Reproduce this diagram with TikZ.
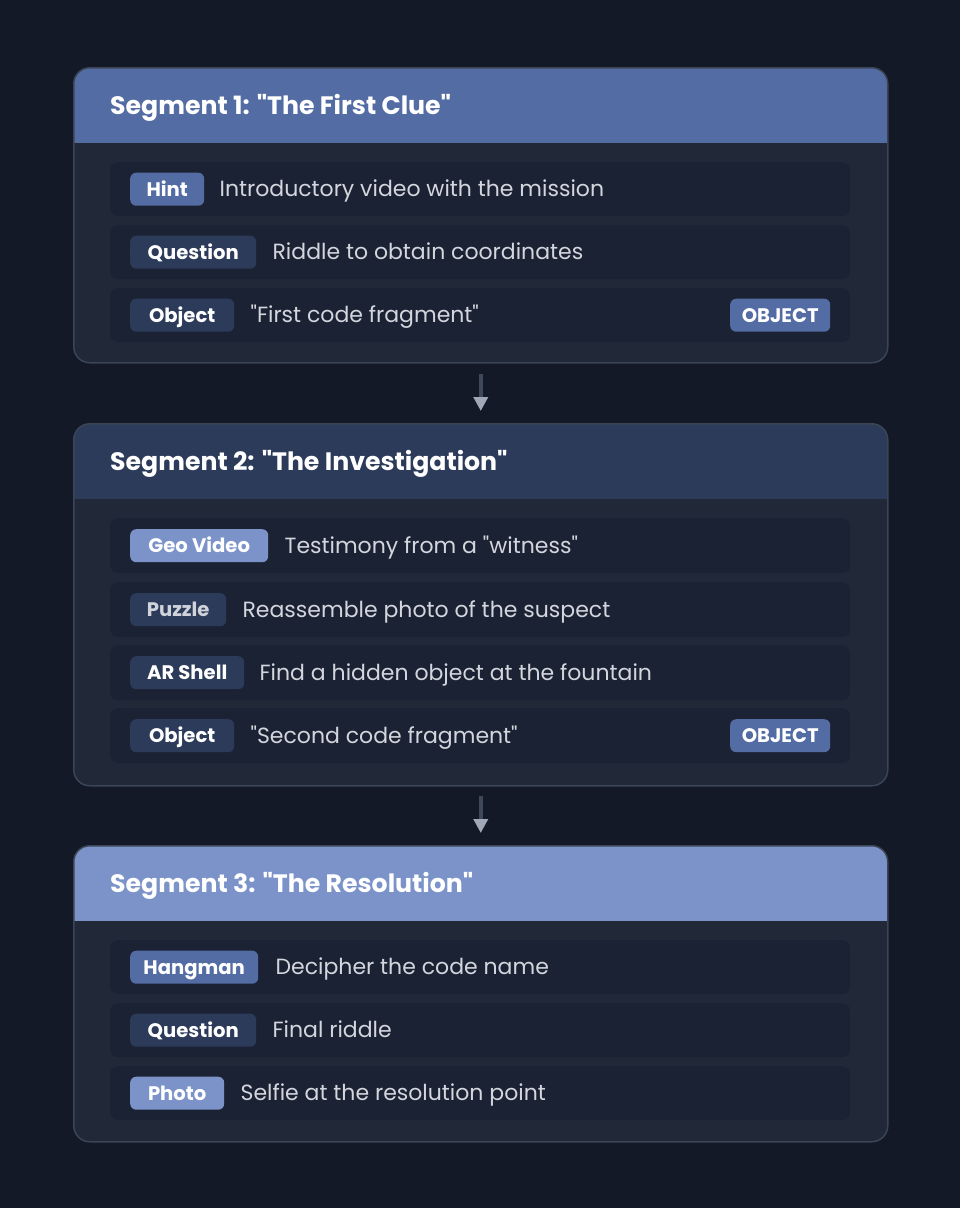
\documentclass[tikz,border=0pt]{standalone}
\usepackage{fontspec}
\setmainfont{Poppins}[Ligatures=TeXOff]
\usetikzlibrary{arrows.meta}
\definecolor{bg}{HTML}{131927}
\definecolor{cardbody}{HTML}{212938}
\definecolor{cardborder}{HTML}{3B4556}
\definecolor{rowbg}{HTML}{1B2233}
\definecolor{cmid}{HTML}{536CA3}
\definecolor{cdark}{HTML}{2C3B5A}
\definecolor{clight}{HTML}{7B93C9}
\definecolor{desctext}{HTML}{D3D6DD}
\definecolor{puzzletext}{HTML}{D0D3DA}
\definecolor{arrline}{HTML}{3E4859}
\definecolor{arrhead}{HTML}{A0A8B8}
\begin{document}
\begin{tikzpicture}[x=1pt,y=-1pt,
  card/.style={draw=cardborder, line width=1.5pt, fill=cardbody, rounded corners=16pt,
    anchor=north west, minimum width=814pt, inner sep=0pt,
    path picture={\fill[#1, sharp corners] (path picture bounding box.north west) rectangle ([yshift=-75pt]path picture bounding box.north east);}},
  rowbox/.style={fill=rowbg, rounded corners=8pt, anchor=north west, minimum width=740pt,
    minimum height=54pt, inner sep=0pt},
  badge/.style={fill=#1, rounded corners=6pt, anchor=west, minimum height=33pt, inner sep=0pt,
    text height=13.7pt, text depth=0pt, text=white, font=\fontsize{19.6pt}{22pt}\selectfont\bfseries},
  desc/.style={anchor=west, inner sep=0pt, text=desctext, text height=15.4pt, text depth=0pt,
    font=\fontsize{22pt}{26pt}\selectfont},
  title/.style={anchor=west, inner sep=0pt, text=white, text height=17.6pt, text depth=0pt,
    font=\fontsize{25.2pt}{29pt}\selectfont\bfseries},
  conn/.style={line width=4pt, draw=arrline,
    -{Triangle[length=14pt,width=14pt,fill=arrhead,color=arrhead]}}
]
\useasboundingbox[fill=bg] (0,0) rectangle (960,1208);

% ---------- Segment 1 ----------
\node[card=cmid, minimum height=295pt] (s1) at (73,67) {};
\node[title] (t1) at (110,106) {Segment 1: "The First Clue"};
\node[rowbox] (r11) at (110,162) {};
\node[rowbox] (r12) at (110,225) {};
\node[rowbox] (r13) at (110,288) {};
\node[badge=cmid, minimum width=74pt] (b11) at ([xshift=20pt]r11.west) {Hint};
\node[desc] (d11) at ([xshift=15pt]b11.east) {Introductory video with the mission};
\node[badge=cdark, minimum width=126pt] (b12) at ([xshift=20pt]r12.west) {Question};
\node[desc] (d12) at ([xshift=16pt]b12.east) {Riddle to obtain coordinates};
\node[badge=cdark, minimum width=104pt] (b13) at ([xshift=20pt]r13.west) {Object};
\node[desc] (d13) at ([xshift=16pt]b13.east) {"First code fragment"};
\node[badge=cmid, minimum width=100pt] (o13) at ([xshift=-20pt]r13.east) [anchor=east] {OBJECT};

% ---------- Segment 2 ----------
\node[card=cdark, minimum height=362pt] (s2) at (73,423) {};
\node[title] (t2) at (110,462) {Segment 2: "The Investigation"};
\node[rowbox, minimum height=55pt] (r21) at (110,518) {};
\node[rowbox, minimum height=55pt] (r22) at (110,582) {};
\node[rowbox, minimum height=55pt] (r23) at (110,645) {};
\node[rowbox, minimum height=55pt] (r24) at (110,708) {};
\node[badge=clight, minimum width=138pt] (b21) at ([xshift=20pt]r21.west) {Geo Video};
\node[desc] (d21) at ([xshift=16pt]b21.east) {Testimony from a "witness"};
\node[badge=cdark, minimum width=96pt, text=puzzletext] (b22) at ([xshift=20pt]r22.west) {Puzzle};
\node[desc] (d22) at ([xshift=16pt]b22.east) {Reassemble photo of the suspect};
\node[badge=cdark, minimum width=114pt] (b23) at ([xshift=20pt]r23.west) {AR Shell};
\node[desc] (d23) at ([xshift=15pt]b23.east) {Find a hidden object at the fountain};
\node[badge=cdark, minimum width=104pt] (b24) at ([xshift=20pt]r24.west) {Object};
\node[desc] (d24) at ([xshift=16pt]b24.east) {"Second code fragment"};
\node[badge=cmid, minimum width=100pt] (o24) at ([xshift=-20pt]r24.east) [anchor=east] {OBJECT};

% ---------- Segment 3 ----------
\node[card=clight, minimum height=296pt] (s3) at (73,845) {};
\node[title] (t3) at (110,884) {Segment 3: "The Resolution"};
\node[rowbox] (r31) at (110,940) {};
\node[rowbox] (r32) at (110,1003) {};
\node[rowbox] (r33) at (110,1066) {};
\node[badge=cmid, minimum width=128pt] (b31) at ([xshift=20pt]r31.west) {Hangman};
\node[desc] (d31) at ([xshift=17pt]b31.east) {Decipher the code name};
\node[badge=cdark, minimum width=126pt] (b32) at ([xshift=20pt]r32.west) {Question};
\node[desc] (d32) at ([xshift=16pt]b32.east) {Final riddle};
\node[badge=clight, minimum width=94pt] (b33) at ([xshift=20pt]r33.west) {Photo};
\node[desc] (d33) at ([xshift=16pt]b33.east) {Selfie at the resolution point};

% ---------- connectors ----------
\draw[conn] ([yshift=-10pt]s1.south) -- ([yshift=12pt]s2.north);
\draw[conn] ([yshift=-9pt]s2.south) -- ([yshift=12pt]s3.north);
\end{tikzpicture}
\end{document}
